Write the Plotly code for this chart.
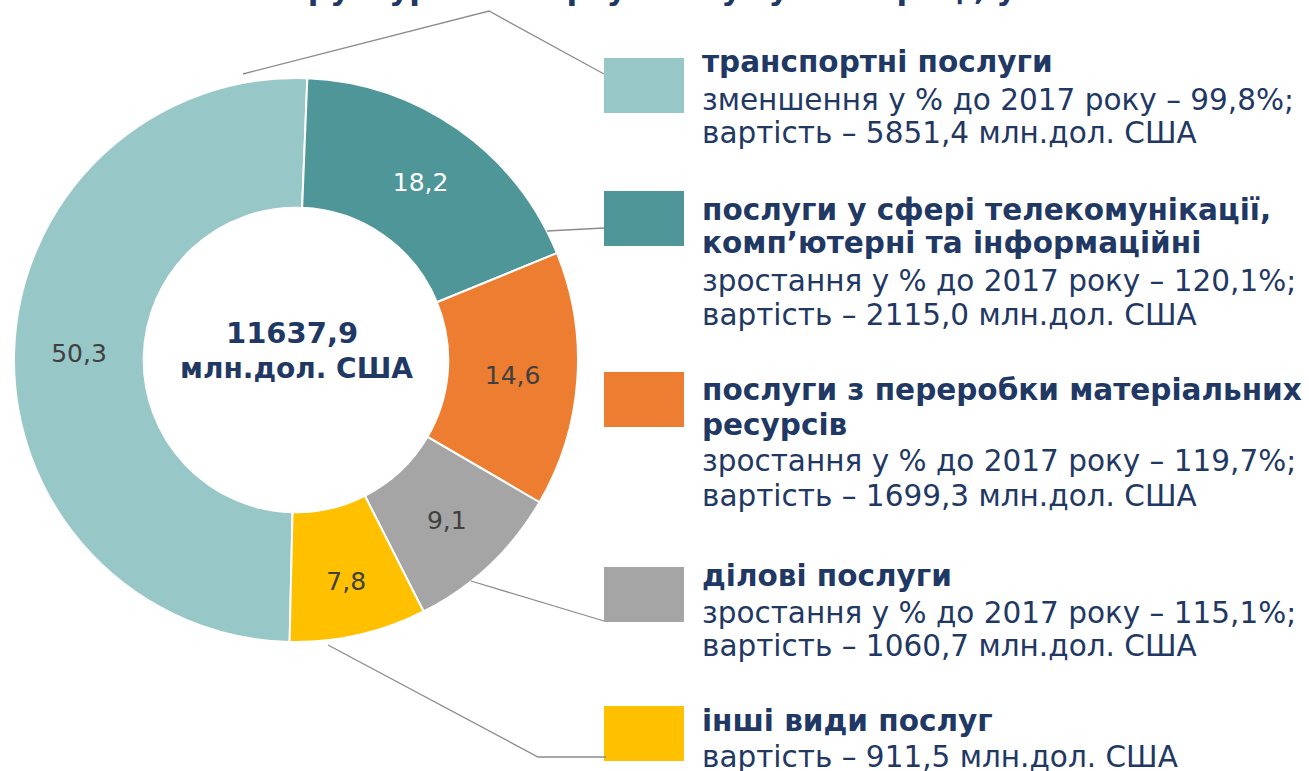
import plotly.graph_objects as go

W, H = 1309, 771

# ---- data ----
categories = [
    "транспортні послуги",
    "послуги у сфері телекомунікації, комп’ютерні та інформаційні",
    "послуги з переробки матеріальних ресурсів",
    "ділові послуги",
    "інші види послуг",
]
values_mln = [5851.4, 2115.0, 1699.3, 1060.7, 911.5]
share_labels = ["50,3", "18,2", "14,6", "9,1", "7,8"]
heading_lines = [
    ["транспортні послуги"],
    ["послуги у сфері телекомунікації,", "комп’ютерні та інформаційні"],
    ["послуги з переробки матеріальних", "ресурсів"],
    ["ділові послуги"],
    ["інші види послуг"],
]
change_lines = [
    "зменшення у % до 2017 року – 99,8%;",
    "зростання у % до 2017 року – 120,1%;",
    "зростання у % до 2017 року – 119,7%;",
    "зростання у % до 2017 року – 115,1%;",
    None,
]
value_lines = [
    "вартість – 5851,4 млн.дол. США",
    "вартість – 2115,0 млн.дол. США",
    "вартість – 1699,3 млн.дол. США",
    "вартість – 1060,7 млн.дол. США",
    "вартість – 911,5 млн.дол. США",
]
total_label = "11637,9"
title_text = "Структура експорту послуг у 2018 році, у %"

colors = ["#98C7C8", "#4E9698", "#ED7D31", "#A5A5A5", "#FFC000"]
label_colors = ["#404040", "#FFFFFF", "#404040", "#404040", "#404040"]
NAVY = "#1F3864"
FONT = "DejaVu Sans"


def px(x, y):
    # pixel position -> paper coords
    return x / W, 1 - y / H


fig = go.Figure()

# donut: centre (296, 360), radius 282
x0, y0 = px(296 - 282, 360 + 282)
x1, y1 = px(296 + 282, 360 - 282)
fig.add_trace(go.Pie(
    labels=categories,
    values=values_mln,
    text=share_labels,
    textinfo="text",
    textposition="inside",
    insidetextorientation="horizontal",
    insidetextfont=dict(family=FONT, size=25, color=label_colors),
    marker=dict(colors=colors, line=dict(color="white", width=2)),
    hole=0.54,
    sort=False,
    direction="clockwise",
    rotation=181.3,
    domain=dict(x=[x0, x1], y=[y0, y1]),
    showlegend=False,
    hoverinfo="label+value+percent",
))

annotations = []
# centre label
for txt, yy, fs, cx in [(total_label, 333, 29, 292), ("млн.дол. США", 368, 28, 296)]:
    ax, ay = px(cx, yy)
    annotations.append(dict(x=ax, y=ay, xref="paper", yref="paper", text=f"<b>{txt}</b>",
                            showarrow=False, xanchor="center", yanchor="middle",
                            font=dict(family=FONT, size=fs, color=NAVY)))

# clipped title at the very top (only descenders visible)
tx, ty = px(662, 9)
annotations.append(dict(x=tx, y=ty, xref="paper", yref="paper", text=f"<b>{title_text}</b>",
                        showarrow=False, xanchor="center", yanchor="bottom",
                        font=dict(family=FONT, size=31, color=NAVY)))

# legend boxes + text
box_tops = [58, 191, 372, 567, 706]
line_ys = [
    [62, 100, 133],
    [210, 243, 281, 315],
    [390, 425, 461, 496],
    [576, 613, 646],
    [721, 757],
]
shapes = []
for i in range(len(categories)):
    bx0, by0 = px(604, box_tops[i])
    bx1, by1 = px(684, box_tops[i] + 55)
    shapes.append(dict(type="rect", xref="paper", yref="paper", x0=bx0, x1=bx1, y0=by1, y1=by0,
                       fillcolor=colors[i], line=dict(width=0)))
    lines = [f"<b>{h}</b>" for h in heading_lines[i]]
    if change_lines[i]:
        lines.append(change_lines[i])
    lines.append(value_lines[i])
    for txt, yy in zip(lines, line_ys[i]):
        ax, ay = px(700, yy)
        annotations.append(dict(x=ax, y=ay, xref="paper", yref="paper", text=txt,
                                showarrow=False, xanchor="left", yanchor="middle",
                                font=dict(family=FONT, size=29.5, color=NAVY)))

# leader lines
leaders = [
    [(243, 74), (489, 11), (604, 74)],
    [(547, 231), (604, 228)],
    [(471, 581), (604, 621)],
    [(328, 645), (538, 757), (606, 757)],
]
for pts in leaders:
    path = ""
    for k, (lx, ly) in enumerate(pts):
        qx, qy = px(lx, ly)
        path += ("M" if k == 0 else " L") + f" {qx:.5f},{qy:.5f}"
    shapes.append(dict(type="path", xref="paper", yref="paper", path=path,
                       line=dict(color="#8C8C8C", width=1.3)))

fig.update_layout(
    width=W, height=H,
    margin=dict(l=0, r=0, t=0, b=0),
    paper_bgcolor="white",
    plot_bgcolor="white",
    annotations=annotations,
    shapes=shapes,
    font=dict(family=FONT),
)

fig.write_html("out.html", config={"displayModeBar": False},
               post_script="document.body.style.margin='0';")
